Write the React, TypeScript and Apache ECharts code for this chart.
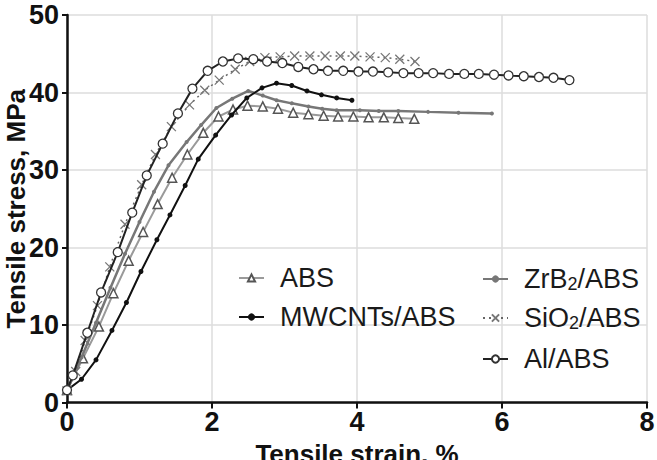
import React, { useEffect, useRef } from "react";
import * as echarts from "echarts";

const xTicks = [0, 2, 4, 6, 8];
const yTicks = [0, 10, 20, 30, 40, 50];

const absX = [0, 0.22, 0.44, 0.64, 0.85, 1.05, 1.25, 1.45, 1.66, 1.88, 2.09, 2.29, 2.49, 2.7, 2.91, 3.12, 3.33, 3.54, 3.74, 3.95, 4.16, 4.37, 4.57, 4.79];
const absY = [1.6, 5.7, 9.8, 14.1, 18.3, 22.0, 25.6, 29.0, 32.0, 34.8, 36.9, 37.8, 38.3, 38.2, 37.9, 37.4, 37.2, 37.0, 36.9, 36.9, 36.8, 36.8, 36.7, 36.6];

const zrbX = [0, 0.2, 0.4, 0.6, 0.8, 1.0, 1.2, 1.4, 1.65, 1.85, 2.06, 2.28, 2.5, 2.7, 2.89, 3.1, 3.33, 3.52, 3.72, 4.04, 4.3, 4.57, 4.98, 5.4, 5.86];
const zrbY = [1.5, 5.8, 10.3, 14.8, 19.2, 23.3, 27.2, 30.6, 33.6, 35.8, 38.0, 39.2, 40.2, 39.6, 39.0, 38.6, 38.2, 37.9, 37.7, 37.7, 37.6, 37.6, 37.5, 37.4, 37.3];

const mwX = [0, 0.2, 0.4, 0.62, 0.82, 1.02, 1.24, 1.42, 1.63, 1.81, 2.05, 2.27, 2.48, 2.69, 2.89, 3.1, 3.31, 3.51, 3.72, 3.93];
const mwY = [1.6, 3.0, 5.5, 9.3, 12.9, 16.9, 21.0, 24.2, 28.0, 31.4, 34.5, 37.1, 39.3, 40.6, 41.2, 40.9, 40.2, 39.7, 39.3, 39.0];

const sioX = [0, 0.12, 0.25, 0.42, 0.59, 0.8, 1.03, 1.22, 1.44, 1.69, 1.9, 2.1, 2.32, 2.52, 2.73, 2.94, 3.14, 3.35, 3.56, 3.77, 3.97, 4.18, 4.39, 4.59, 4.8];
const sioY = [1.5, 4.0, 8.0, 12.5, 17.5, 23.0, 28.1, 32.0, 35.6, 38.4, 40.3, 41.6, 43.0, 44.0, 44.5, 44.6, 44.7, 44.7, 44.7, 44.7, 44.7, 44.6, 44.5, 44.3, 44.0];

const alX = [0, 0.08, 0.28, 0.47, 0.7, 0.9, 1.1, 1.32, 1.53, 1.73, 1.94, 2.15, 2.36, 2.57, 2.76, 2.97, 3.19, 3.4, 3.6, 3.81, 4.02, 4.22, 4.43, 4.64, 4.85, 5.05, 5.27, 5.48, 5.68, 5.89, 6.09, 6.3, 6.51, 6.71, 6.93];
const alY = [1.6, 3.5, 9.0, 14.2, 19.4, 24.5, 29.3, 33.4, 37.3, 40.5, 42.8, 44.0, 44.4, 44.3, 44.0, 43.8, 43.3, 43.0, 42.8, 42.8, 42.7, 42.7, 42.6, 42.5, 42.5, 42.5, 42.4, 42.4, 42.4, 42.3, 42.2, 42.1, 42.0, 41.9, 41.6];

const names = ["ABS", "MWCNTs/ABS", "ZrB2/ABS", "SiO2/ABS", "Al/ABS"];

const zip = (xs: number[], ys: number[]) => xs.map((x, i) => [x, ys[i]]);

const FONT = "'Liberation Sans', Arial, sans-serif";

export default function App() {
  const ref = useRef<HTMLDivElement>(null);
  useEffect(() => {
    if (!ref.current) return;
    const chart = echarts.init(ref.current, null, { renderer: "svg" });
    const legendText = {
      fontFamily: FONT,
      fontSize: 27,
      lineHeight: 27,
      color: "#1a1a1a",
      padding: [0, 0, 0, 11],
      rich: {
        n: { fontFamily: FONT, fontSize: 27, lineHeight: 27, color: "#1a1a1a" },
        s: {
          fontFamily: FONT,
          fontSize: 18,
          lineHeight: 12,
          color: "#1a1a1a",
          padding: [15, 0, 0, 0],
          verticalAlign: "bottom",
        },
      },
    };
    const fmt = (name: string) => {
      if (name === "ZrB2/ABS") return "{n|ZrB}{s|2}{n|/ABS}";
      if (name === "SiO2/ABS") return "{n|SiO}{s|2}{n|/ABS}";
      return "{n|" + name + "}";
    };
    const mkLegend = (name: string, left: number, cy: number, shift: number) => ({
      data: [name],
      left,
      top: cy - 13.5 + shift,
      padding: 0,
      itemWidth: 25,
      itemHeight: 9,
      textStyle: legendText,
      formatter: fmt,
      selectedMode: false,
    });
    const xSym = "path://M0,0L10,10M10,0L0,10";
    chart.setOption({
      animation: false,
      backgroundColor: "#fff",
      grid: {
        left: 67,
        right: 10,
        top: 15,
        bottom: 57.5,
        containLabel: false,
        outerBoundsMode: "none",
      },
      legend: [
        mkLegend(names[0], 238, 278, 0),
        mkLegend(names[1], 238, 317, 0),
        mkLegend(names[2], 482, 279, -6),
        mkLegend(names[3], 482, 317, -5),
        mkLegend(names[4], 482, 358, 1),
      ],
      xAxis: {
        type: "value",
        min: xTicks[0],
        max: xTicks[xTicks.length - 1],
        interval: 2,
        name: "Tensile strain, %",
        nameLocation: "middle",
        nameGap: 38,
        nameMoveOverlap: false,
        nameTextStyle: { fontFamily: FONT, fontSize: 26, fontWeight: "bold", color: "#111" },
        axisLine: { lineStyle: { color: "#111", width: 2.5 } },
        axisTick: { show: true, length: 6, lineStyle: { color: "#111", width: 2 } },
        axisLabel: { fontFamily: FONT, fontSize: 27, fontWeight: "bold", color: "#111", margin: 6 },
        splitLine: { show: true, lineStyle: { color: "#dcdcdc", width: 1.5 } },
      },
      yAxis: {
        type: "value",
        min: yTicks[0],
        max: yTicks[yTicks.length - 1],
        interval: 10,
        name: "Tensile stress, MPa",
        nameLocation: "middle",
        nameGap: 38,
        nameMoveOverlap: false,
        nameTextStyle: { fontFamily: FONT, fontSize: 26, fontWeight: "bold", color: "#111" },
        axisLine: { show: true, lineStyle: { color: "#111", width: 2.5 } },
        axisTick: { show: true, length: 5, lineStyle: { color: "#111", width: 2 } },
        axisLabel: { fontFamily: FONT, fontSize: 27, fontWeight: "bold", color: "#111", margin: 8 },
        splitLine: { show: true, lineStyle: { color: "#dcdcdc", width: 1.5 } },
      },
      series: [
        {
          name: names[0],
          type: "line",
          data: zip(absX, absY),
          symbol: "triangle",
          symbolSize: 9,
          lineStyle: { color: "#9a9a9a", width: 2 },
          itemStyle: { color: "#fff", borderColor: "#555", borderWidth: 1.5 },
          z: 2,
        },
        {
          name: names[1],
          type: "line",
          data: zip(mwX, mwY),
          symbol: "circle",
          symbolSize: 5,
          lineStyle: { color: "#111", width: 2 },
          itemStyle: { color: "#111", borderColor: "#111", borderWidth: 0 },
          z: 4,
        },
        {
          name: names[2],
          type: "line",
          data: zip(zrbX, zrbY),
          symbol: "circle",
          symbolSize: 4,
          lineStyle: { color: "#777", width: 2.5 },
          itemStyle: { color: "#777", borderColor: "#777", borderWidth: 0 },
          z: 3,
        },
        {
          name: names[3],
          type: "line",
          data: zip(sioX, sioY),
          symbol: xSym,
          symbolSize: 9,
          lineStyle: { color: "#666", width: 1.5, type: [2, 4] },
          itemStyle: { color: "none", borderColor: "#777", borderWidth: 1.3 },
          z: 5,
        },
        {
          name: names[4],
          type: "line",
          data: zip(alX, alY),
          symbol: "circle",
          symbolSize: 9,
          lineStyle: { color: "#222", width: 2 },
          itemStyle: { color: "#fff", borderColor: "#333", borderWidth: 1.3 },
          z: 6,
        },
      ],
    });
    return () => chart.dispose();
  }, []);
  return (
    <div
      ref={ref}
      style={{ position: "fixed", left: 0, top: 0, width: 657, height: 460, background: "#fff" }}
    />
  );
}
